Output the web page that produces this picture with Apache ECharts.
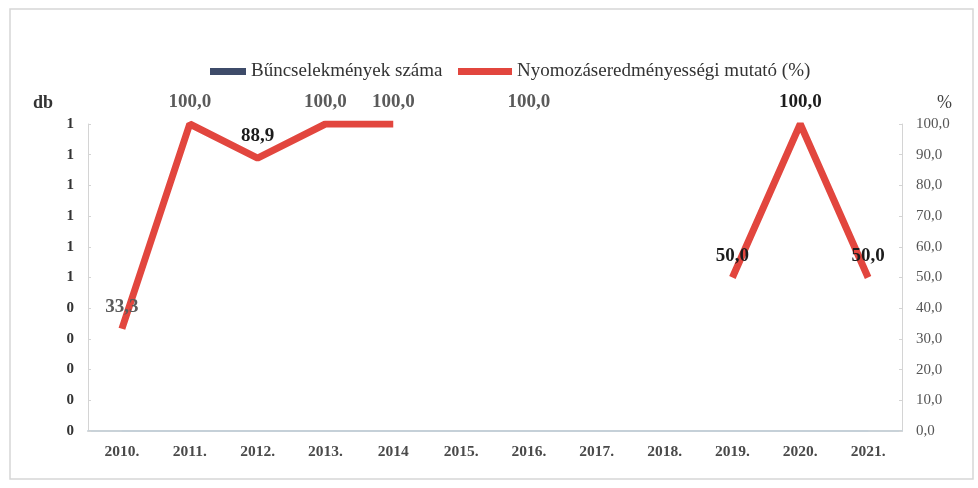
<!DOCTYPE html>
<html>
<head>
<meta charset="utf-8">
<script src="https://cdn.jsdelivr.net/npm/echarts@6/dist/echarts.min.js"></script>
<style>
	html, body { margin: 0; padding: 0; background: #fff; }
	#chart { width: 978px; height: 488px; }
</style>
</head>
<body>
<div id="chart"></div>
<script>
// évek
const years = ['2010.', '2011.', '2012.', '2013.', '2014', '2015.', '2016.', '2017.', '2018.', '2019.', '2020.', '2021.'];
// Bűncselekmények száma (db)
const crimes = [0, 0, 0, 0, 0, 0, 0, 0, 0, 0, 0, 0];
// Nyomozáseredményességi mutató (%)
const rate = [33.3, 100, 88.9, 100, 100, null, 100, null, null, 50, 100, 50];
// címkék, amelyek sötétebben látszanak
const darkLabels = ['2012.', '2019.', '2020.', '2021.'];

const serif = "'Liberation Serif', 'Times New Roman', serif";
const fmt = v => v.toFixed(1).replace('.', ',');
const legendText = { fontFamily: serif, fontSize: 19, color: '#333' };

let myChart = echarts.init(document.getElementById('chart'));
myChart.setOption({
	animation: false,
	textStyle: { fontFamily: serif },
	graphic: [
		{
			type: 'rect',
			shape: { x: 10, y: 9, width: 963, height: 470 },
			style: { fill: 'none', stroke: '#d6d6d6', lineWidth: 1.5 },
			silent: true
		}
	],
	// két jelmagyarázat, mert a jelek szélessége eltér
	legend: [
		{
			top: 57,
			left: 205,
			itemGap: 0,
			itemWidth: 36,
			itemHeight: 7,
			textStyle: legendText,
			data: [{ name: 'Bűncselekmények száma', icon: 'rect' }]
		},
		{
			top: 57,
			left: 453,
			itemGap: 0,
			itemWidth: 54,
			itemHeight: 7,
			textStyle: legendText,
			data: [{ name: 'Nyomozáseredményességi mutató (%)', icon: 'rect' }]
		}
	],
	grid: {
		left: 88,
		right: 76,
		top: 124,
		bottom: 57
	},
	xAxis: {
		type: 'category',
		data: years,
		axisLine: { lineStyle: { color: '#c9d2d8', width: 2 } },
		axisTick: { show: false },
		axisLabel: {
			margin: 13,
			fontFamily: serif,
			fontSize: 15.5,
			fontWeight: 'bold',
			color: '#4a4a4a'
		}
	},
	yAxis: [
		{
			type: 'value',
			min: 0,
			max: 1,
			interval: 0.1,
			name: 'db',
			nameLocation: 'end',
			nameGap: 12,
			nameTextStyle: { fontFamily: serif, fontSize: 18, fontWeight: 'bold', color: '#333', align: 'right', padding: [0, 35, 0, 0] },
			axisLine: { show: true, lineStyle: { color: '#d4d4d4' } },
			axisTick: { show: true, inside: true, length: 3, lineStyle: { color: '#d4d4d4' } },
			splitLine: { show: false },
			axisLabel: {
				margin: 14,
				fontFamily: serif,
				fontSize: 15,
				fontWeight: 'bold',
				color: '#333',
				formatter: v => String(Math.round(v + 1e-9))
			}
		},
		{
			type: 'value',
			min: 0,
			max: 100,
			interval: 10,
			name: '%',
			nameLocation: 'end',
			nameGap: 12,
			nameTextStyle: { fontFamily: serif, fontSize: 18, color: '#444', align: 'left', padding: [0, 0, 0, 35] },
			axisLine: { show: true, lineStyle: { color: '#d4d4d4' } },
			axisTick: { show: true, inside: true, length: 3, lineStyle: { color: '#d4d4d4' } },
			splitLine: { show: false },
			axisLabel: {
				margin: 14,
				fontFamily: serif,
				fontSize: 15,
				color: '#555',
				formatter: v => fmt(v)
			}
		}
	],
	series: [
		{
			name: 'Bűncselekmények száma',
			type: 'line',
			yAxisIndex: 0,
			data: crimes,
			symbol: 'none',
			itemStyle: { color: '#3e4b69' },
			lineStyle: { color: '#c5d0d8', width: 2 },
			z: 2
		},
		{
			name: 'Nyomozáseredményességi mutató (%)',
			type: 'line',
			yAxisIndex: 1,
			symbol: 'circle',
			symbolSize: 0,
			showSymbol: true,
			data: rate.map((v, i) => ({
				value: v,
				label: { color: darkLabels.includes(years[i]) ? '#1c1c1c' : '#5a5a5a' }
			})),
			itemStyle: { color: '#e2463e' },
			lineStyle: { color: '#e2463e', width: 7 },
			label: {
				show: true,
				position: 'top',
				distance: 12,
				fontFamily: serif,
				fontSize: 19,
				fontWeight: 'bold',
				formatter: p => fmt(p.value)
			},
			z: 3
		}
	]
});
</script>
</body>
</html>
